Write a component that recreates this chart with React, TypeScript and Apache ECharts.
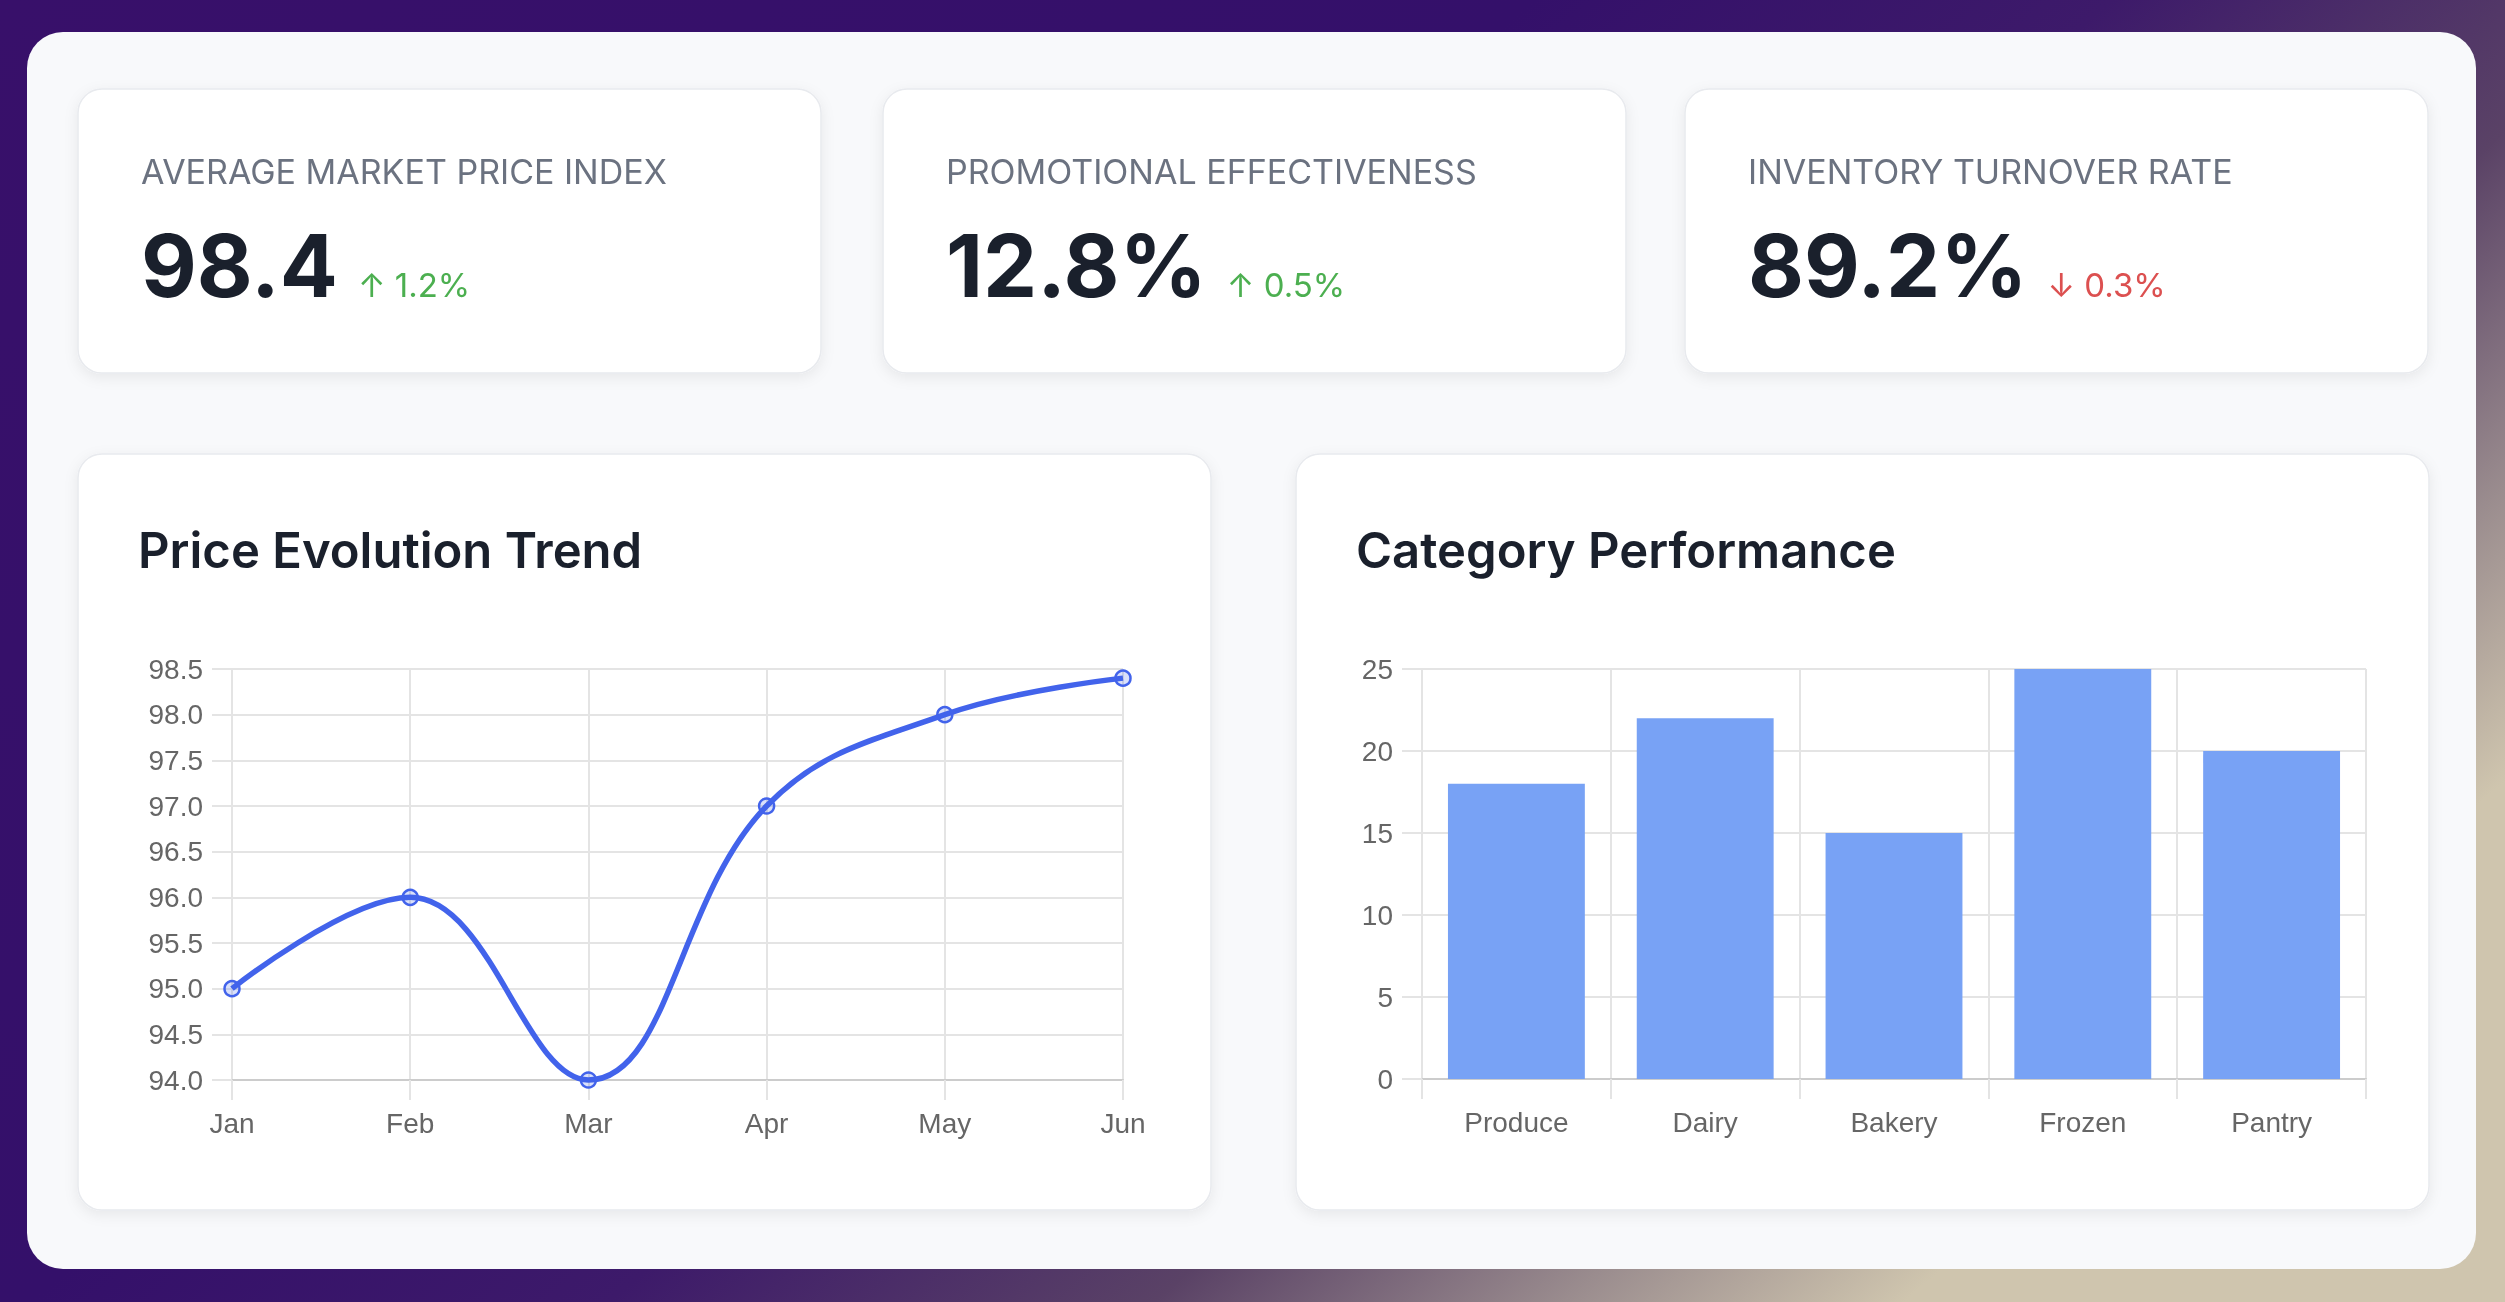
import React, { useEffect, useRef } from "react";
import * as echarts from "echarts";

const months = ["Jan", "Feb", "Mar", "Apr", "May", "Jun"];
const priceIndex = [95.0, 96.0, 94.0, 97.0, 98.0, 98.4];
const priceMin = 94;
const priceMax = 98.5;
const priceStep = 0.5;

const categories = ["Produce", "Dairy", "Bakery", "Frozen", "Pantry"];
const categoryValues = [18, 22, 15, 25, 20];
const catMin = 0;
const catMax = 25;
const catStep = 5;

const kpiTitles = ["AVERAGE MARKET PRICE INDEX", "PROMOTIONAL EFFECTIVENESS", "INVENTORY TURNOVER RATE"];
const kpiValues = ["98.4", "12.8%", "89.2%"];
const kpiChanges = ["1.2%", "0.5%", "0.3%"];
const kpiUp = [true, true, false];

const chartTitles = ["Price Evolution Trend", "Category Performance"];

const W = 2505;
const H = 1302;

function measure(text: string, font: string): number {
  const c = document.createElement("canvas").getContext("2d");
  if (!c) return text.length * 50;
  c.font = font;
  return c.measureText(text).width;
}

export default function App() {
  const ref = useRef<HTMLDivElement>(null);
  useEffect(() => {
    if (!ref.current) return;
    const chart = echarts.init(ref.current, null, { renderer: "svg", width: W, height: H });

    const gridColor = "#e4e4e4";
    const labelFont = "'Liberation Sans', Arial, sans-serif";
    const uiFont = "Inter, 'Noto Sans', sans-serif";

    const kpiX = [78, 883, 1685];
    const kpiW = 743;
    const graphics: any[] = [];
    graphics.push({
      type: "rect",
      z: -30,
      shape: { x: 0, y: 0, width: W, height: H },
      style: {
        fill: {
          type: "linear", x: 0, y: 0, x2: 1, y2: 0.6,
          colorStops: [
            { offset: 0, color: "#38106a" },
            { offset: 0.45, color: "#34106a" },
            { offset: 0.62, color: "#3d1a6a" },
            { offset: 0.78, color: "#5a4266" },
            { offset: 0.9, color: "#9a8c8e" },
            { offset: 1, color: "#cfc5ae" },
          ],
        },
      },
    });
    graphics.push({
      type: "rect",
      z: -20,
      shape: { x: 27, y: 32, width: 2449, height: 1237, r: 36 },
      style: { fill: "#f8f9fb" },
    });
    const cardStyle = {
      fill: "#ffffff",
      stroke: "#e8eaee",
      lineWidth: 1.5,
      shadowBlur: 14,
      shadowOffsetY: 4,
      shadowColor: "rgba(0,0,0,0.07)",
    };
    kpiX.forEach((x) => {
      graphics.push({ type: "rect", z: -10, shape: { x, y: 89, width: kpiW, height: 284, r: 24 }, style: cardStyle });
    });
    [78, 1296].forEach((x) => {
      graphics.push({ type: "rect", z: -10, shape: { x, y: 454, width: 1133, height: 756, r: 24 }, style: cardStyle });
    });

    kpiX.forEach((x, i) => {
      graphics.push({
        type: "text", z: 10, x: x + 63, y: 171,
        style: { text: kpiTitles[i], fill: "#6b7280", font: `400 34px ${uiFont}`, verticalAlign: "middle", align: "left" },
      });
      const numFont = `700 86px ${uiFont}`;
      graphics.push({
        type: "text", z: 10, x: x + 63, y: 266,
        style: { text: kpiValues[i], fill: "#1a202c", font: numFont, verticalAlign: "middle", align: "left" },
      });
      const nw = measure(kpiValues[i], "700 86px Inter");
      graphics.push({
        type: "text", z: 10, x: x + 63 + nw + 20, y: 285,
        style: {
          text: (kpiUp[i] ? "↑ " : "↓ ") + kpiChanges[i],
          fill: kpiUp[i] ? "#4caf50" : "#dc5050",
          font: `400 33px ${uiFont}`,
          verticalAlign: "middle", align: "left",
        },
      });
    });
    [78, 1296].forEach((x, i) => {
      graphics.push({
        type: "text", z: 10, x: x + 60, y: 550,
        style: { text: chartTitles[i], fill: "#1a202c", font: `600 49px ${uiFont}`, verticalAlign: "middle", align: "left" },
      });
    });

    const axisLabel = { color: "#666666", fontSize: 28, fontFamily: labelFont };
    const tick = { show: true, length: 20, lineStyle: { color: gridColor, width: 2 } };
    const split = { show: true, lineStyle: { color: gridColor, width: 2 } };

    chart.setOption({
      animation: false,
      textStyle: { fontFamily: labelFont },
      graphic: { elements: graphics },
      grid: [
        { left: 232, top: 669, width: 891, height: 411 },
        { left: 1422, top: 669, width: 944, height: 410 },
      ],
      xAxis: [
        {
          gridIndex: 0, type: "category", data: months, boundaryGap: false, z: 5,
          axisLine: { show: true, lineStyle: { color: "#cccccc", width: 2 } },
          axisTick: tick, splitLine: split,
          axisLabel: { ...axisLabel, margin: 29 },
        },
        {
          gridIndex: 1, type: "category", data: categories, boundaryGap: true, z: 5,
          axisLine: { show: true, lineStyle: { color: "#cccccc", width: 2 } },
          axisTick: tick, splitLine: split,
          axisLabel: { ...axisLabel, margin: 29 },
        },
      ],
      yAxis: [
        {
          gridIndex: 0, type: "value", min: priceMin, max: priceMax, interval: priceStep, z: 5,
          axisLine: { show: true, lineStyle: { color: gridColor, width: 2 } },
          axisTick: tick, splitLine: split,
          axisLabel: { ...axisLabel, margin: 29, formatter: (v: number) => v.toFixed(1) },
        },
        {
          gridIndex: 1, type: "value", min: catMin, max: catMax, interval: catStep, z: 5,
          axisLine: { show: true, lineStyle: { color: gridColor, width: 2 } },
          axisTick: tick, splitLine: split,
          axisLabel: { ...axisLabel, margin: 29 },
        },
      ],
      series: [
        {
          type: "line", xAxisIndex: 0, yAxisIndex: 0, data: priceIndex, z: 10,
          smooth: 0.4, clip: false,
          symbol: "circle", symbolSize: 15,
          lineStyle: { color: "#4263eb", width: 5.5 },
          itemStyle: { color: "rgba(66,99,235,0.2)", borderColor: "#4263eb", borderWidth: 2.5 },
        },
        {
          type: "bar", xAxisIndex: 1, yAxisIndex: 1, data: categoryValues, z: 10,
          barCategoryGap: "27.5%",
          itemStyle: { color: "#78a2f5" },
        },
      ],
    });
    return () => chart.dispose();
  }, []);
  return <div ref={ref} style={{ position: "fixed", left: 0, top: 0, width: W, height: H }} />;
}
